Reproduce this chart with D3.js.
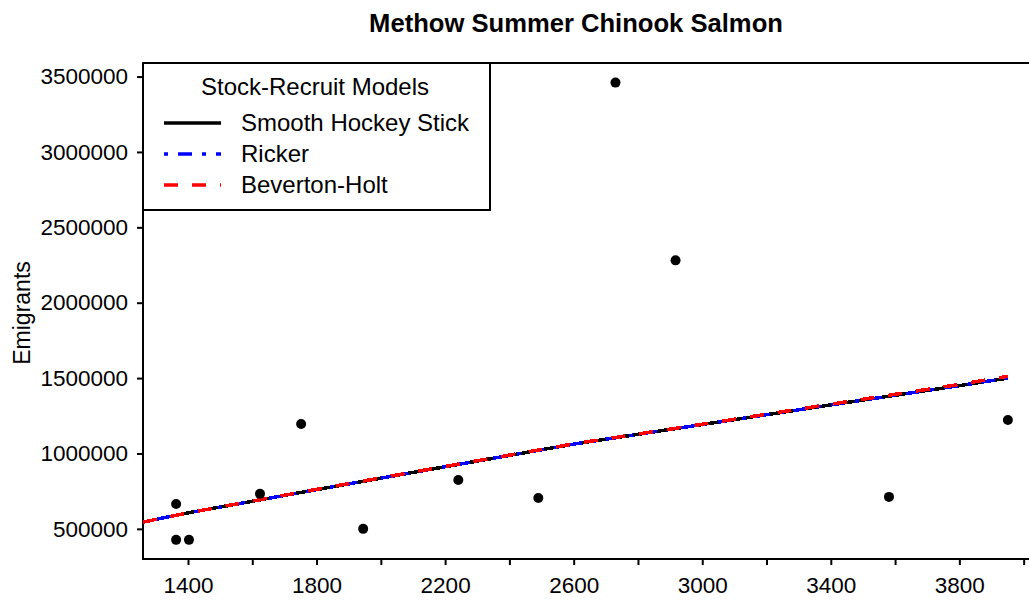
<!DOCTYPE html>
<meta charset="utf-8">
<head>
	<style type="text/css">
		body { margin: 0; background: #fff; }
		text { font-family: "Liberation Sans", Arial, sans-serif; fill: #000; }
	</style>
	<title>Methow Summer Chinook Salmon</title>
</head>

<script src="https://cdn.jsdelivr.net/npm/d3@7"></script>

<svg width="1029" height="601" id="svg1"></svg>

<script>
	// observed spawners / emigrants
	const spawners = [1363, 1363, 1403, 1624, 1752, 1945, 2241, 2490, 2730, 2917, 3581, 3951];
	const emigrants = [665000, 427000, 427000, 732000, 1195000, 500000, 824000, 705000, 3460000, 2281000, 712000, 1222000];

	// model predictions on a spawner grid
	const gridS = [1260, 1400, 1800, 2200, 2600, 3000, 3400, 3800, 3951];
	const hockey = [545000, 606000, 760000, 912000, 1062000, 1192000, 1322000, 1450000, 1500000];
	const ricker = [545000, 606000, 760000, 912000, 1062000, 1192000, 1322000, 1450000, 1500000];
	const bevHolt = [545000, 606000, 762000, 914000, 1064000, 1194000, 1327000, 1458000, 1512000];

	const xTicks = [1400, 1600, 1800, 2000, 2200, 2400, 2600, 2800, 3000, 3200, 3400, 3600, 3800, 4000];
	const xLabels = [1400, 1800, 2200, 2600, 3000, 3400, 3800];
	const yTicks = [500000, 1000000, 1500000, 2000000, 2500000, 3000000, 3500000];

	const modelNames = ['Smooth Hockey Stick', 'Ricker', 'Beverton-Holt'];
	const modelColors = ['#000000', '#0000ff', '#ff0000'];
	const modelDash = ['none', '4,10,14,10', '14,14'];

	const svg1 = d3.select('#svg1');

	const mLeft = 143, mTop = 63, mBottom = 559, mRight = 1050;

	const x = d3.scaleLinear().domain([1260, 4082]).range([mLeft, mRight]);
	const y = d3.scaleLinear().domain([300000, 3590000]).range([mBottom, mTop]);

	// title
	svg1.append('text')
		.attr('x', 576)
		.attr('y', 32)
		.attr('text-anchor', 'middle')
		.style('font-size', '25.6px')
		.style('font-weight', 'bold')
		.text('Methow Summer Chinook Salmon');

	// y label
	svg1.append('text')
		.attr('transform', 'translate(30,313) rotate(-90)')
		.attr('text-anchor', 'middle')
		.style('font-size', '23px')
		.text('Emigrants');

	// axes
	const xAxis = d3.axisBottom(x).tickValues(xTicks).tickSize(6).tickPadding(12)
		.tickFormat(d => xLabels.includes(d) ? d : '');
	const gx = svg1.append('g').attr('transform', `translate(0,${mBottom})`).call(xAxis);

	const yAxis = d3.axisLeft(y).tickValues(yTicks).tickSize(6).tickPadding(9)
		.tickFormat(d3.format('d'));
	const gy = svg1.append('g').attr('transform', `translate(${mLeft},0)`).call(yAxis);

	[gx, gy].forEach(g => {
		g.select('.domain').remove();
		g.selectAll('line').attr('stroke', '#000').attr('stroke-width', 2);
		g.selectAll('text').style('font-size', '22.5px').style('font-family', '"Liberation Sans", Arial, sans-serif');
	});

	// plot box
	svg1.append('rect')
		.attr('x', mLeft).attr('y', mTop)
		.attr('width', mRight - mLeft).attr('height', mBottom - mTop)
		.attr('fill', 'none').attr('stroke', '#000').attr('stroke-width', 2);

	svg1.append('clipPath').attr('id', 'clip')
		.append('rect').attr('x', mLeft).attr('y', mTop)
		.attr('width', mRight - mLeft).attr('height', mBottom - mTop);

	// model lines
	const line = d3.line().x(d => x(d[0])).y(d => y(d[1]));
	const models = [hockey, ricker, bevHolt];
	models.forEach((m, i) => {
		svg1.append('path')
			.attr('clip-path', 'url(#clip)')
			.attr('d', line(gridS.map((s, j) => [s, m[j]])))
			.attr('fill', 'none')
			.attr('stroke', modelColors[i])
			.attr('stroke-width', 3.5)
			.attr('stroke-dasharray', modelDash[i])
			.attr('shape-rendering', 'crispEdges');
	});

	// points
	svg1.append('g').selectAll('circle')
		.data(spawners.map((s, i) => [s, emigrants[i]]))
		.enter()
		.append('circle')
			.attr('cx', d => x(d[0]))
			.attr('cy', d => y(d[1]))
			.attr('r', 5)
			.attr('fill', '#000');

	// legend
	const lg = svg1.append('g');
	lg.append('rect')
		.attr('x', mLeft).attr('y', mTop)
		.attr('width', 347).attr('height', 147)
		.attr('fill', '#fff').attr('stroke', '#000').attr('stroke-width', 2);
	lg.append('text')
		.attr('x', 315).attr('y', 95)
		.attr('text-anchor', 'middle')
		.style('font-size', '24px')
		.text('Stock-Recruit Models');
	modelNames.forEach((name, i) => {
		const ly = 123 + i * 31;
		lg.append('line')
			.attr('x1', 164).attr('x2', 221)
			.attr('y1', ly).attr('y2', ly)
			.attr('stroke', modelColors[i])
			.attr('stroke-width', 3.5)
			.attr('stroke-dasharray', modelDash[i]);
		lg.append('text')
			.attr('x', 241).attr('y', ly + 8)
			.style('font-size', '24px')
			.text(name);
	});
</script>
